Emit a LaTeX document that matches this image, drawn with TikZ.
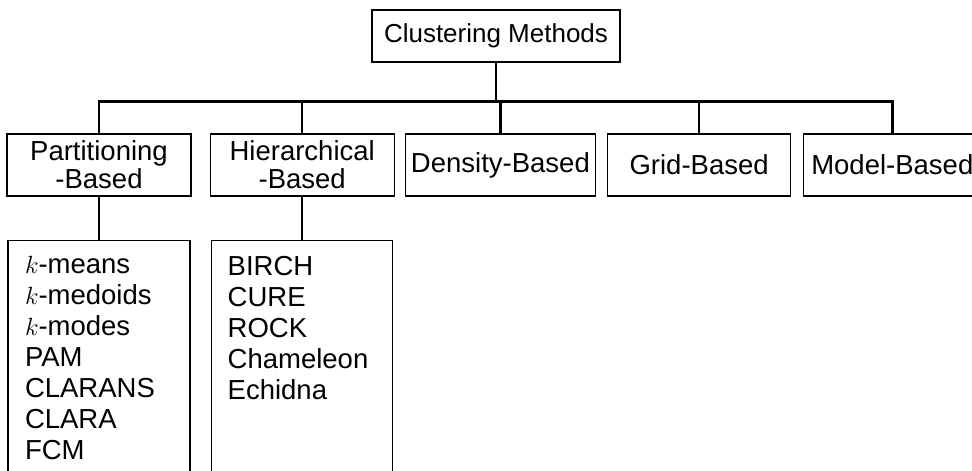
\documentclass[tikz,border=0pt]{standalone}
\usepackage{fontspec}
\setmainfont{Liberation Sans}
\usetikzlibrary{positioning}

\begin{document}
\begin{tikzpicture}[x=1pt, y=1pt, node distance=12pt, font=\fontsize{27.5}{28}\selectfont]
\tikzstyle{block} = [draw, line width=1.2pt, align=center, minimum height=62pt, inner sep=4pt]
\tikzstyle{listblock} = [draw, line width=1.2pt, inner xsep=17pt, inner ysep=16pt, font=\fontsize{27.5}{31}\selectfont]
\tikzstyle{link} = [line width=2.5pt]

\useasboundingbox (0,0) rectangle (972,-471);

\node[block, minimum width=248pt, minimum height=52pt, font=\fontsize{26}{28}\selectfont] (root) at (496,-36) {Clustering Methods};

% method families
\node[block, minimum width=184pt] (part) at (99,-165) {Partitioning\\-Based};
\node[block, minimum width=184pt, right=18pt of part] (hier) {Hierarchical\\-Based};
\node[block, minimum width=190pt, right=10pt of hier] (dens) {Density-Based};
\node[block, minimum width=183pt, right=11pt of dens] (grid) {Grid-Based};
\node[block, minimum width=177pt, right=12pt of grid] (model) {Model-Based};

% algorithm lists
\node[listblock, below=43pt of part] (partlist) {\parbox[t][250pt][t]{148pt}{\raggedright
  $k$-means\\$k$-medoids\\$k$-modes\\PAM\\CLARANS\\CLARA\\FCM}};
\node[listblock, inner xsep=16pt, below=43pt of hier] (hierlist) {\parbox[t][250pt][t]{149pt}{\raggedright
  BIRCH\\CURE\\ROCK\\Chameleon\\Echidna}};

\coordinate (bus) at ([yshift=-39pt]root.south);
\draw[link] (root) -- (bus);
\foreach \n in {part,hier,dens,grid,model}
  \draw[link] (bus) -| (\n);
\draw[link] (part) -- (partlist);
\draw[link] (hier) -- (hierlist);
\end{tikzpicture}
\end{document}
